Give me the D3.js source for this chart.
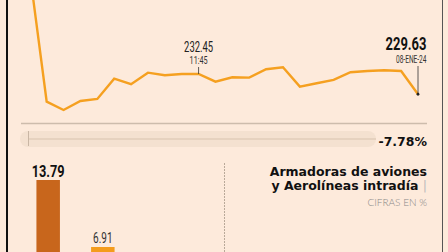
<!DOCTYPE html>
<html>
<head>
<meta charset="utf-8">
<script src="https://cdn.jsdelivr.net/npm/d3@7"></script>
<style>
  html, body { margin: 0; padding: 0; background: #fdeadb; overflow: hidden; }
  svg { display: block; }
</style>
</head>
<body>
<svg id="chart" width="448" height="252"></svg>
<script>
// Intraday price
const times = ['09:15', '09:30', '09:45', '10:00', '10:15', '10:30', '10:45', '11:00',
  '11:15', '11:30', '11:45', '12:00', '12:15', '12:30', '12:45', '13:00', '13:15',
  '13:30', '13:45', '14:00', '14:15', '14:30', '14:45', '15:00']
const prices = [246.48, 228.60, 227.45, 228.70, 228.98, 231.80, 231.02, 232.63,
  232.27, 232.45, 232.45, 231.38, 231.99, 231.94, 233.10, 233.38, 230.69,
  231.16, 231.62, 232.69, 232.87, 232.96, 232.87, 229.63]
const markIndex = 10
const lastLabel = '08-ENE-24'
const change = -7.78

// Bars
const barNames = ['a', 'b']
const barValues = [13.79, 6.91]

const svg = d3.select('#chart')
const width = +svg.attr('width')
const height = +svg.attr('height')

const lineColor = '#f5a020'
const narrow = '"Roboto", "Liberation Sans", sans-serif'
const geo = '"DejaVu Sans", sans-serif'

svg.append('rect')
  .attr('width', width)
  .attr('height', height)
  .attr('fill', '#fdeadb')

// Frame lines
svg.append('line')
  .attr('x1', 7).attr('x2', 7)
  .attr('y1', 0).attr('y2', height)
  .attr('stroke', '#111')
  .attr('stroke-width', 2)

svg.append('line')
  .attr('x1', 442.5).attr('x2', 442.5)
  .attr('y1', 0).attr('y2', height)
  .attr('stroke', '#555')
  .attr('stroke-width', 1)

// Line chart
const x = d3.scalePoint()
  .domain(times)
  .range([29.8, 418])

const y = d3.scaleLinear()
  .domain([226, 236])
  .range([120.4, 48.4])

const line = d3.line()
  .x((d, i) => x(times[i]))
  .y(d => y(d))

svg.append('path')
  .datum(prices)
  .attr('d', line)
  .attr('fill', 'none')
  .attr('stroke', lineColor)
  .attr('stroke-width', 2.4)
  .attr('stroke-linejoin', 'miter')

// condensed number labels
const label = (px, py, txt, size, len, anchor, weight, color) => {
  svg.append('text')
    .attr('x', px)
    .attr('y', py)
    .attr('text-anchor', anchor)
    .attr('textLength', len)
    .attr('lengthAdjust', 'spacingAndGlyphs')
    .style('font-family', narrow)
    .style('font-weight', weight)
    .style('font-size', size + 'px')
    .style('fill', color)
    .text(txt)
}

// Mid annotation
const mx = x(times[markIndex])
const my = y(prices[markIndex])
svg.append('line')
  .attr('x1', mx).attr('x2', mx)
  .attr('y1', 67).attr('y2', my)
  .attr('stroke', '#333')
  .attr('stroke-width', 0.8)
label(mx, 51.5, prices[markIndex].toFixed(2), 14, 29, 'middle', 'normal', '#222')
label(mx, 64, times[markIndex], 10, 18, 'middle', 'normal', '#333')

// Last annotation
const last = prices.length - 1
const lx = x(times[last])
const ly = y(prices[last])
svg.append('line')
  .attr('x1', lx).attr('x2', lx)
  .attr('y1', 66).attr('y2', ly)
  .attr('stroke', '#333')
  .attr('stroke-width', 0.8)
svg.append('circle')
  .attr('cx', lx).attr('cy', ly)
  .attr('r', 1.4)
  .attr('fill', '#222')
label(426.5, 50, prices[last].toFixed(2), 17.5, 41, 'end', 'bold', '#111')
label(426.5, 62.8, lastLabel, 10.5, 30.5, 'end', 'normal', '#333')

// Base line
svg.append('line')
  .attr('x1', 21).attr('x2', 427)
  .attr('y1', 123.5).attr('y2', 123.5)
  .attr('stroke', '#cdbcac')
  .attr('stroke-width', 1.5)

// Change track
svg.append('rect')
  .attr('x', 20).attr('y', 131)
  .attr('width', 356).attr('height', 16)
  .attr('rx', 8)
  .attr('fill', '#f4e1d0')
svg.append('line')
  .attr('x1', 28.5).attr('x2', 28.5)
  .attr('y1', 131).attr('y2', 146)
  .attr('stroke', '#c9b6a4')
  .attr('stroke-width', 1)
svg.append('line')
  .attr('x1', 29).attr('x2', 376)
  .attr('y1', 139).attr('y2', 139)
  .attr('stroke', '#e6d2bf')
  .attr('stroke-width', 2)

svg.append('text')
  .attr('x', 427)
  .attr('y', 145.5)
  .attr('text-anchor', 'end')
  .style('font-family', geo)
  .style('font-weight', 'bold')
  .style('font-size', '12.5px')
  .style('fill', '#111')
  .text(`${change.toFixed(2)}%`)

// Title
svg.append('text')
  .attr('x', 427)
  .attr('y', 175.5)
  .attr('text-anchor', 'end')
  .style('font-family', geo)
  .style('font-weight', 'bold')
  .style('font-size', '12.5px')
  .style('fill', '#111')
  .text('Armadoras de aviones')
const t2 = svg.append('text')
  .attr('x', 427)
  .attr('y', 190)
  .attr('text-anchor', 'end')
  .style('font-family', geo)
  .style('font-weight', 'bold')
  .style('font-size', '12.5px')
  .style('fill', '#111')
t2.append('tspan').text('y Aerolíneas intradía ')
t2.append('tspan').style('fill', '#bbb').style('font-weight', '400').text('|')
svg.append('text')
  .attr('x', 427)
  .attr('y', 206)
  .attr('text-anchor', 'end')
  .style('font-family', 'Lato, sans-serif')
  .style('font-weight', '300')
  .style('font-size', '10px')
  .style('fill', '#888')
  .text('CIFRAS EN %')

// Dotted divider
svg.append('line')
  .attr('x1', 224.5).attr('x2', 224.5)
  .attr('y1', 163).attr('y2', height)
  .attr('stroke', '#b9a999')
  .attr('stroke-width', 1)
  .attr('stroke-dasharray', '2,1')

// Bar chart
const xb = d3.scaleBand()
  .domain(barNames)
  .range([25.5, 125.5])
  .paddingInner(0.57)
  .paddingOuter(0.2)

const yb = d3.scaleLinear()
  .domain([0, 13.79])
  .range([314.3, 180])

const barColors = ['#c8661c', '#f49c1c']

svg.append('g')
  .selectAll('rect')
  .data(barValues)
  .join('rect')
  .attr('x', (d, i) => xb(barNames[i]))
  .attr('y', d => yb(d))
  .attr('width', xb.bandwidth())
  .attr('height', d => yb(0) - yb(d))
  .attr('fill', (d, i) => barColors[i])

barValues.forEach((d, i) => {
  const cx = xb(barNames[i]) + xb.bandwidth() / 2
  if (i === 0) label(cx, yb(d) - 3, d.toFixed(2), 17, 33, 'middle', 'bold', '#111')
  else label(cx, yb(d) - 4, d.toFixed(2), 14, 19.5, 'middle', 'normal', '#333')
})
</script>
</body>
</html>
